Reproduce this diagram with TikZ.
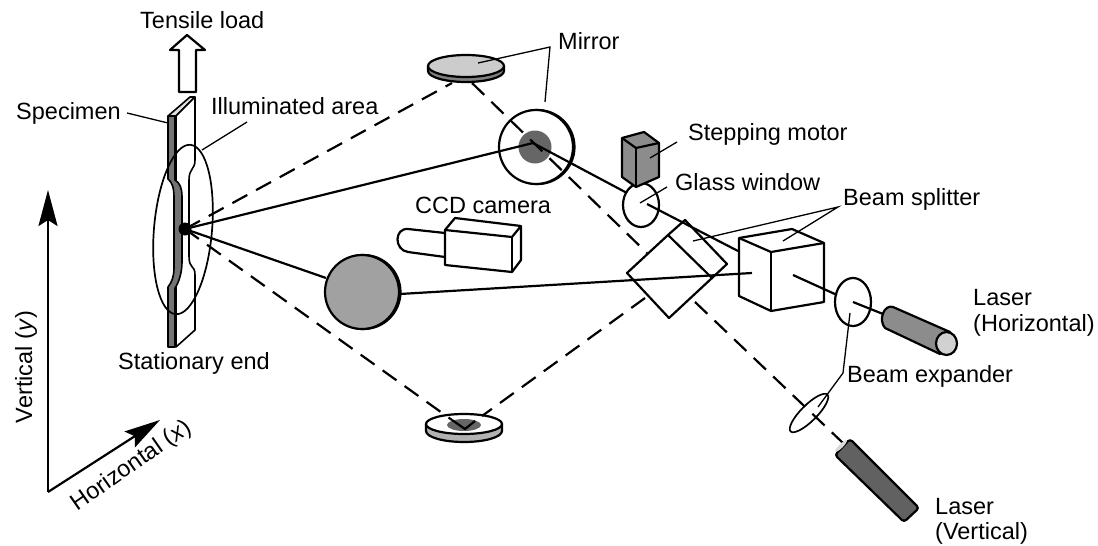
\documentclass[tikz,border=0pt]{standalone}
\usepackage{fontspec}
\setmainfont{Liberation Sans}
\usetikzlibrary{arrows.meta}
\tikzset{
  part/.style={line width=2.2pt,line join=round},
  beam/.style={line width=2.2pt},
  dashbeam/.style={line width=2.2pt,dash pattern=on 17pt off 10pt},
  leader/.style={line width=1.3pt,line join=miter},
  lbl/.style={anchor=west,inner sep=0pt,font=\fontsize{23.5}{27}\selectfont},
  axis/.style={line width=2.2pt,-{Stealth[length=36pt,width=19pt,inset=6pt]}}
}
\begin{document}
\begin{tikzpicture}[x=1pt,y=-1pt]
\useasboundingbox (0,0) rectangle (1098,546);

% beam points
\coordinate (spot) at (185,229);
\coordinate (mirrorhit) at (533,143);
\coordinate (floorhit) at (465,429);
\coordinate (axisorigin) at (48,492);

% specimen
\draw[part,fill=gray!25,line width=1.6pt] (168,116)--(190,97)--(195,97)--(176,116)--cycle;
\draw[part,fill=white,line width=1.6pt] (195,97)--(195,160) .. controls (195,170) and (189,168) .. (189,180)
  --(189,256) .. controls (189,270) and (195,264) .. (195,275)--(195,330)--(176,347)--(176,116)--cycle;
\draw[part,fill=black!55,line width=1.6pt] (168,116)--(175,116)--(175,180) .. controls (180,183) and (182,188) .. (182,197)
  --(182,262) .. controls (182,274) and (178,284) .. (175,288)--(175,347)--(168,347)--(168,287)
  .. controls (172,282) and (174,276) .. (174,268)--(174,197) .. controls (174,188) and (172,182) .. (168,179)--cycle;
\draw[line width=1.7pt,rotate around={-5:(183,229.5)}] (183,229.5) ellipse [x radius=29,y radius=85];

% tensile load arrow
\draw[part,fill=white] (187,35)--(205,50)--(196,50)--(196,92)--(179,92)--(179,50)--(170,50)--cycle;

% axes
\draw[axis] (axisorigin)--(48,190);
\draw[axis] (axisorigin)--(160,420);

% lenses and windows under the beams
\draw[part,fill=white] (641,205) ellipse [x radius=18,y radius=22];
\draw[part,fill=white] (853,302) ellipse [x radius=18,y radius=24];
\draw[line width=1.7pt,rotate around={45:(809,413)}] (809,413) ellipse [x radius=26,y radius=8];

% mirrors
\draw[part,fill=black!50] (428,66)--(428,71) arc[start angle=180,end angle=0,x radius=38,y radius=11]--(504,66)--cycle;
\draw[part,fill=black!20] (466,66) ellipse [x radius=38,y radius=11];
\draw[part,fill=black!30] (426,424)--(426,431) arc[start angle=180,end angle=0,x radius=38,y radius=11]--(502,424)--cycle;
\draw[part,fill=white] (464,424) ellipse [x radius=38,y radius=10];
\fill[black!60] (464,425) ellipse [x radius=17,y radius=6];
\draw[part] (537.5,147) circle (37);
\draw[part,fill=white] (536,147) circle (37);
\fill[black!60] (535,147) circle (16.5);
\draw[part] (363.5,292) circle (37);
\draw[part,fill=black!37] (362,292) circle (37);

% beam paths
\draw[beam] (spot)--(mirrorhit)--(627,193);
\draw[beam] (647,204)--(738,251);
\draw[beam] (spot)--(326,278);
\draw[beam] (400,294)--(752,273);
\draw[beam] (793,275)--(837,295);
\draw[beam] (853,302)--(883,314);
\draw[dashbeam] (spot)--(452,83);
\draw[dashbeam] (472,83)--(647,253);
\draw[dashbeam] (spot)--(452,420);
\draw[dashbeam] (645,298)--(482,416);
\draw[dashbeam] (695,302)--(843,443);
\draw[beam] (452,420)--(floorhit)--(475,421);
\fill (spot) circle (6.5);

% stepping motor
\draw[part,fill=black!45] (622,138)--(644,132)--(659,143)--(659,177)--(636,187)--(622,177)--cycle;
\draw[part] (622,138)--(636,148)--(659,143);
\draw[part] (636,148)--(636,187);

% ccd camera
\draw[part,fill=white] (445,233)--(408,229) .. controls (394,228) and (394,250) .. (408,252)--(445,257);
\draw[part,fill=white] (445,230)--(455,218)--(521,226)--(521,260)--(512,272)--(445,265)--cycle;
\draw[part] (445,230)--(512,237)--(521,226);
\draw[part] (512,237)--(512,272);

% plate beam splitter
\draw[part] (668,235)--(685,220)--(727,264)--(712,278);
\draw[part] (627,273)--(668,235)--(712,278)--(669,318)--cycle;

% cube beam splitter
\draw[part] (739,238)--(792,229)--(824,243)--(824,302)--(771,311)--(739,296)--cycle;
\draw[part] (739,238)--(771,252)--(824,243);
\draw[part] (771,252)--(771,311);

% lasers
\draw[part,fill=black!45] (893,307)--(950,332)--(940,354)--(885,328) .. controls (878,320) and (884,304) .. (893,307)--cycle;
\draw[part,fill=black!18] (946.5,343.5) ellipse [x radius=10.5,y radius=11.5];
\draw[part,fill=black!62,rounded corners=3pt] (835,455)--(850,439)--(919,508)--(904,522)--cycle;
\fill[black!15,rotate around={45:(841,446)}] (841,446) ellipse [x radius=8,y radius=2];

% leaders
\draw[leader] (478,63)--(550,47)--(545,102);
\draw[leader] (127,113)--(168,123);
\draw[leader] (247,122)--(202,150);
\draw[leader] (677,142)--(650,158);
\draw[leader] (667,187)--(640,203);
\draw[leader] (693,241)--(838,207)--(783,241);
\draw[leader] (850,313)--(843,373)--(818,407);

% labels
\node[lbl] (tensiletext) at (140,20) {Tensile load};
\node[lbl] (specimentext) at (16,113) {Specimen};
\node[lbl] (illumtext) at (211,106) {Illuminated area};
\node[lbl] (stationarytext) at (118,363) {Stationary end};
\node[lbl] (mirrortext) at (558,41) {Mirror};
\node[lbl] (motortext) at (688,134) {Stepping motor};
\node[lbl] (windowtext) at (675,182) {Glass window};
\node[lbl] (cameratext) at (415,205) {CCD camera};
\node[lbl] (splittertext) at (843,199) {Beam splitter};
\node[lbl] (expandertext) at (847,376) {Beam expander};
\node[lbl] (laserhtext) at (973,298) {Laser};
\node[lbl] (laserhtext2) at (973,325) {(Horizontal)};
\node[lbl] (laservtext) at (935,507) {Laser};
\node[lbl] (laservtext2) at (935,533) {(Vertical)};
\node[lbl,anchor=center,rotate=90] (verticaltext) at (26,367) {Vertical (\textit{y})};
\node[lbl,anchor=center,rotate=35] (horizontaltext) at (132,466) {Horizontal (\textit{x})};
\end{tikzpicture}
\end{document}
